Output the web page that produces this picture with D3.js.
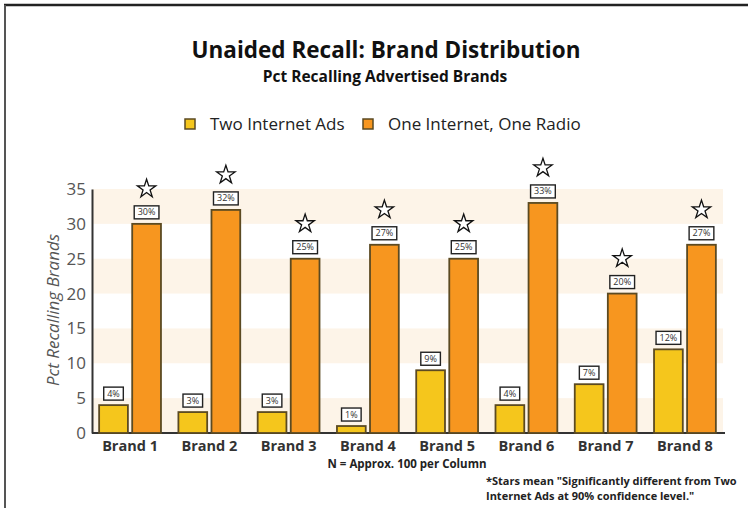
<!DOCTYPE html>
<html>
<head>
  <meta charset="utf-8">
  <title>Unaided Recall</title>
  <script src="https://d3js.org/d3.v7.min.js"></script>
  <style>
  body {
    margin: 0;
    background: white;
  }
  text {
    font-family: "Open Sans", "DejaVu Sans", sans-serif;
  }
  .title {
    font-size: 22.5px;
    font-weight: bold;
    fill: #111;
  }
  .subtitle {
    font-size: 15.5px;
    font-weight: bold;
    fill: #111;
  }
  .legendText {
    font-size: 17px;
    fill: #222;
  }
  .yTick text {
    font-size: 17px;
    fill: #555;
  }
  .xTick text {
    font-size: 14.5px;
    font-weight: bold;
    fill: #333;
  }
  .valLabel {
    font-size: 9px;
    fill: #333;
  }
  .note {
    font-size: 11.5px;
    font-weight: bold;
    fill: #222;
  }
  .foot {
    font-size: 11px;
    font-weight: bold;
    fill: #222;
  }
  </style>
</head>
<body>
<div id='container'></div>

<script>

var brands = ['Brand 1', 'Brand 2', 'Brand 3', 'Brand 4', 'Brand 5', 'Brand 6', 'Brand 7', 'Brand 8']
var twoInternet = [4, 3, 3, 1, 9, 4, 7, 12]
var internetRadio = [30, 32, 25, 27, 25, 33, 20, 27]
var significant = [true, true, true, true, true, true, true, true]
var yTicks = [0, 5, 10, 15, 20, 25, 30, 35]
var seriesNames = ['Two Internet Ads', 'One Internet, One Radio']

const width = 748
const height = 508
const colors = ['#f5c61c', '#f7961f']
const barStroke = '#5b4a22'

var svg = d3.select('#container')
  .append('svg')
  .attr('width', width)
  .attr('height', height)

// frame
svg.append('line')
  .attr('x1', 4).attr('x2', width)
  .attr('y1', 5).attr('y2', 5)
  .style('stroke', '#222').style('stroke-width', 2.5)
svg.append('line')
  .attr('x1', 5).attr('x2', 5)
  .attr('y1', 5).attr('y2', height)
  .style('stroke', '#555').style('stroke-width', 2)

// titles
svg.append('text').attr('class', 'title')
  .attr('x', 386).attr('y', 58)
  .attr('text-anchor', 'middle')
  .text('Unaided Recall: Brand Distribution')
svg.append('text').attr('class', 'subtitle')
  .attr('x', 385).attr('y', 82)
  .attr('text-anchor', 'middle')
  .text('Pct Recalling Advertised Brands')

// legend
var legendX = [185, 363]
seriesNames.forEach((name, i) => {
  svg.append('rect')
    .attr('x', legendX[i]).attr('y', 119)
    .attr('width', 10).attr('height', 10)
    .style('fill', colors[i])
    .style('stroke', barStroke).style('stroke-width', 1.5)
  svg.append('text').attr('class', 'legendText')
    .attr('x', legendX[i] + 25).attr('y', 130)
    .text(name)
})

var plotLeft = 92
var plotRight = 723
var plotTop = 189
var plotBottom = 433

var yScale = d3.scaleLinear()
  .domain([0, 35])
  .range([plotBottom, plotTop])

var x0 = d3.scaleBand()
  .domain(brands)
  .range([plotLeft, plotRight])
  .paddingInner(0.22)
  .paddingOuter(0.09)

var x1 = d3.scaleBand()
  .domain([0, 1])
  .range([0, x0.bandwidth()])
  .paddingInner(0.13)

// background bands
var bandStarts = yTicks.filter((t, i) => i < yTicks.length - 1 && i % 2 === 0)
svg.append('g')
  .selectAll('rect')
  .data(bandStarts)
  .enter()
  .append('rect')
  .attr('x', plotLeft)
  .attr('width', plotRight - plotLeft)
  .attr('y', d => yScale(d + 5))
  .attr('height', d => yScale(d) - yScale(d + 5))
  .style('fill', '#fdf4e8')

// axes
var yAxis = d3.axisLeft(yScale)
  .tickValues(yTicks)
  .tickSize(0)
  .tickPadding(6)

var yG = svg.append('g')
  .attr('class', 'yTick')
  .attr('transform', 'translate(' + plotLeft + ',0)')
  .call(yAxis)
yG.select('.domain').style('stroke', '#333').style('stroke-width', 2)

var xAxis = d3.axisBottom(x0)
  .tickSize(0)
  .tickPadding(5)

var xG = svg.append('g')
  .attr('class', 'xTick')
  .attr('transform', 'translate(0,' + plotBottom + ')')
  .call(xAxis)
xG.select('.domain')
  .attr('d', 'M' + plotLeft + ',0H' + (plotRight + 2))
  .style('stroke', '#333').style('stroke-width', 2)
xG.selectAll('text').attr('dy', '0.9em')

svg.append('text')
  .attr('transform', 'translate(59,310) rotate(-90)')
  .attr('text-anchor', 'middle')
  .style('font-size', '17px')
  .style('font-style', 'italic')
  .style('fill', '#555')
  .text('Pct Recalling Brands')

// bars
var series = [twoInternet, internetRadio]

series.forEach((values, s) => {
  var g = svg.append('g')

  g.selectAll('rect')
    .data(values)
    .enter()
    .append('rect')
    .attr('x', (d, i) => x0(brands[i]) + x1(s))
    .attr('y', d => yScale(d))
    .attr('width', x1.bandwidth())
    .attr('height', d => yScale(0) - yScale(d))
    .style('fill', colors[s])
    .style('stroke', barStroke)
    .style('stroke-width', 1.8)

  // value boxes
  values.forEach((d, i) => {
    var cx = x0(brands[i]) + x1(s) + x1.bandwidth() / 2
    var boxBottom = yScale(d) - 5
    var lab = g.append('g')
    var box = lab.append('rect')
    var t = lab.append('text')
      .attr('class', 'valLabel')
      .attr('x', cx)
      .attr('y', boxBottom - 3.5)
      .attr('text-anchor', 'middle')
      .text(d + '%')
    var w = t.node().getComputedTextLength() + 7
    box.attr('x', cx - w / 2)
      .attr('y', boxBottom - 13)
      .attr('width', w)
      .attr('height', 13)
      .style('fill', 'white')
      .style('stroke', '#222')
      .style('stroke-width', 1.4)

    if (s === 1 && significant[i]) {
      lab.append('path')
        .attr('d', d3.symbol(d3.symbolStar, 105)())
        .attr('transform', 'translate(' + cx + ',' + (boxBottom - 30) + ')')
        .style('fill', 'white')
        .style('stroke', '#111')
        .style('stroke-width', 1.3)
    }
  })
})

// notes
svg.append('text').attr('class', 'note')
  .attr('x', 407).attr('y', 468)
  .attr('text-anchor', 'middle')
  .text('N = Approx. 100 per Column')

svg.append('text').attr('class', 'foot')
  .attr('x', 486).attr('y', 485)
  .text('*Stars mean "Significantly different from Two')
svg.append('text').attr('class', 'foot')
  .attr('x', 486).attr('y', 500)
  .text('Internet Ads at 90% confidence level."')

</script>
</body>
</html>
